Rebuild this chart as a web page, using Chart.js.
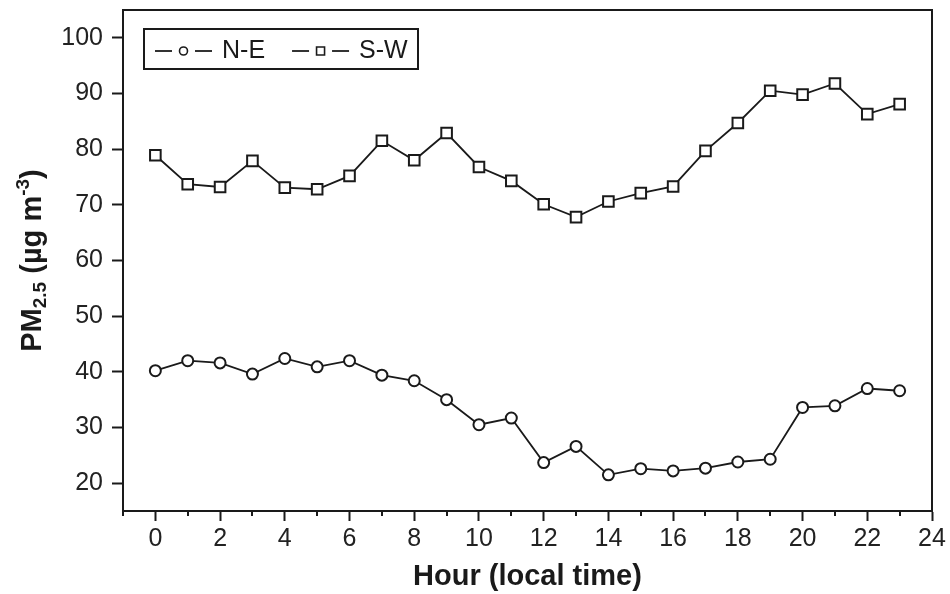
<!DOCTYPE html>
<html><head><meta charset="utf-8">
<script src="https://cdn.jsdelivr.net/npm/chart.js@4/dist/chart.umd.min.js"></script>
<style>html,body{margin:0;padding:0;background:#fff}#wrap{width:950px;height:594px}</style>
</head><body><div id="wrap"><canvas id="c" width="950" height="594"></canvas></div>
<script>
const hours = [0,1,2,3,4,5,6,7,8,9,10,11,12,13,14,15,16,17,18,19,20,21,22,23];
const neValues = [40.2,42.0,41.6,39.6,42.4,40.9,42.0,39.4,38.4,35.0,30.5,31.7,23.7,26.6,21.5,22.6,22.2,22.7,23.8,24.3,33.6,33.9,37.0,36.6];
const swValues = [78.9,73.7,73.2,77.9,73.1,72.8,75.2,81.5,78.0,82.9,76.8,74.3,70.1,67.8,70.6,72.1,73.3,79.7,84.7,90.5,89.8,91.8,86.3,88.1];
const xTickValues = [0,2,4,6,8,10,12,14,16,18,20,22,24];
const xMinorTickValues = [-1,1,3,5,7,9,11,13,15,17,19,21,23];
const yTickValues = [20,30,40,50,60,70,80,90,100];
const seriesNames = ['N-E','S-W'];
const xTitle = 'Hour (local time)';
const yTitleParts = [
  {t:'PM', k:'n'}, {t:'2.5', k:'sub'}, {t:' (\u00b5g m', k:'n'}, {t:'-3', k:'sup'}, {t:')', k:'n'}
];

const FONT = '"Liberation Sans", Arial, Helvetica, sans-serif';
const INK = '#1a1a1a';

const framePlugin = {
  id: 'frame',
  afterDraw(chart) {
    const {ctx, chartArea: a, scales} = chart;
    ctx.save();
    ctx.strokeStyle = INK;
    ctx.lineWidth = 2;
    ctx.beginPath();
    ctx.moveTo(a.left, a.top); ctx.lineTo(a.right, a.top); ctx.lineTo(a.right, a.bottom);
    ctx.stroke();
    // minor x ticks
    ctx.lineWidth = 2;
    ctx.beginPath();
    xMinorTickValues.forEach(v => {
      const x = Math.round(scales.x.getPixelForValue(v));
      ctx.moveTo(x, a.bottom); ctx.lineTo(x, a.bottom + 5);
    });
    ctx.stroke();
    // y title with sub/superscripts
    const big = 'bold 29px ' + FONT, small = 'bold 19px ' + FONT;
    let total = 0;
    yTitleParts.forEach(p => { ctx.font = p.k === 'n' ? big : small; total += ctx.measureText(p.t).width; });
    ctx.translate(41, (a.top + a.bottom) / 2);
    ctx.rotate(-Math.PI / 2);
    ctx.fillStyle = INK;
    ctx.textBaseline = 'alphabetic';
    ctx.textAlign = 'left';
    let x = -total / 2;
    yTitleParts.forEach(p => {
      ctx.font = p.k === 'n' ? big : small;
      const dy = p.k === 'sub' ? 5 : (p.k === 'sup' ? -12 : 0);
      ctx.fillText(p.t, x, dy);
      x += ctx.measureText(p.t).width;
    });
    ctx.restore();
    // legend
    ctx.save();
    const box = {left: a.left + 21, top: a.top + 19, w: 274, h: 40};
    ctx.strokeStyle = INK; ctx.lineWidth = 2;
    ctx.strokeRect(box.left, box.top, box.w, box.h);
    const cy = box.top + box.h / 2 + 2;
    let L = box.left + 11;
    ctx.font = '25px ' + FONT;
    ctx.textBaseline = 'middle';
    chart.data.datasets.forEach(ds => {
      ctx.strokeStyle = '#333'; ctx.lineWidth = 2;
      ctx.beginPath();
      ctx.moveTo(L, cy); ctx.lineTo(L + 17, cy);
      ctx.moveTo(L + 40, cy); ctx.lineTo(L + 57, cy);
      ctx.stroke();
      ctx.fillStyle = '#fff'; ctx.strokeStyle = INK; ctx.lineWidth = 1.6;
      ctx.beginPath();
      if (ds.pointStyle === 'circle') ctx.arc(L + 28.5, cy, 4, 0, Math.PI * 2);
      else ctx.rect(L + 24.5, cy - 4, 8, 8);
      ctx.fill(); ctx.stroke();
      ctx.fillStyle = INK;
      ctx.fillText(ds.label, L + 67, cy);
      L = L + 67 + ctx.measureText(ds.label).width + 27;
    });
    ctx.restore();
  }
};

new Chart(document.getElementById('c'), {
  type: 'line',
  data: {
    datasets: [
      {label: seriesNames[0], data: hours.map((h, i) => ({x: h, y: neValues[i]})), pointStyle: 'circle', pointRadius: 5.5,
       borderColor: INK, borderWidth: 1.8, pointBackgroundColor: '#fff', pointBorderColor: INK, pointBorderWidth: 2, tension: 0},
      {label: seriesNames[1], data: hours.map((h, i) => ({x: h, y: swValues[i]})), pointStyle: 'rect', pointRadius: 7.5,
       borderColor: INK, borderWidth: 1.8, pointBackgroundColor: '#fff', pointBorderColor: INK, pointBorderWidth: 2, tension: 0}
    ]
  },
  options: {
    responsive: false,
    animation: false,
    events: [],
    layout: {padding: {top: 10, right: 18, left: 0, bottom: 0}},
    plugins: {legend: {display: false}, tooltip: {enabled: false}},
    scales: {
      x: {
        type: 'linear', min: -1, max: 24,
        afterBuildTicks: s => { s.ticks = xTickValues.map(v => ({value: v})); },
        afterFit: s => { s.height = 83; },
        ticks: {font: {size: 25, family: FONT}, color: '#222', padding: 3, maxRotation: 0, autoSkip: false, callback: v => String(v)},
        grid: {display: true, drawOnChartArea: false, drawTicks: true, tickLength: 10, tickWidth: 2, tickColor: INK},
        border: {display: true, color: INK, width: 2},
        title: {display: true, text: xTitle, font: {size: 29, weight: 'bold', family: FONT}, color: INK, padding: {top: 0, bottom: 0}}
      },
      y: {
        min: 15, max: 105,
        afterBuildTicks: s => { s.ticks = yTickValues.map(v => ({value: v})); },
        afterFit: s => { s.width = 123; s.paddingTop = 0; s.paddingBottom = 0; },
        ticks: {font: {size: 25, family: FONT}, color: '#222', padding: 9, autoSkip: false},
        grid: {display: true, drawOnChartArea: false, drawTicks: true, tickLength: 11, tickWidth: 2, tickColor: INK},
        border: {display: true, color: INK, width: 2}
      }
    }
  },
  plugins: [framePlugin]
});
</script></body></html>
